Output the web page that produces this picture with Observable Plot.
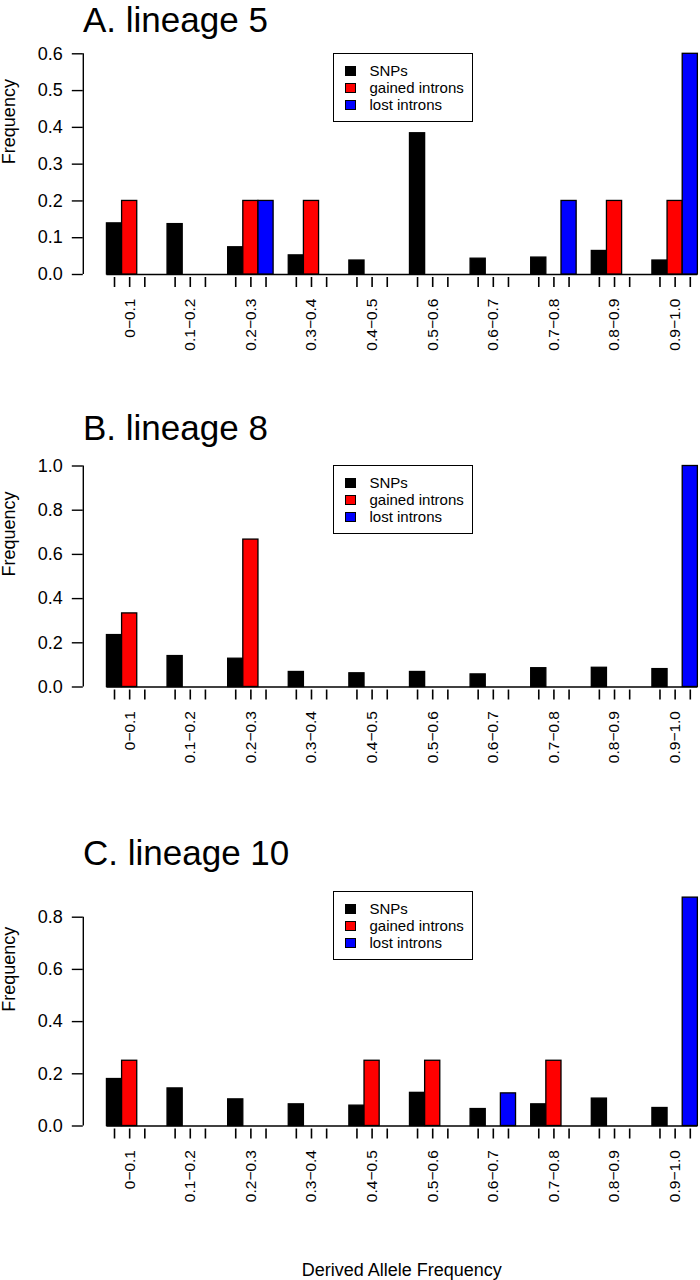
<!DOCTYPE html>
<html>
<head>
<meta charset="utf-8">
<script src="https://cdn.jsdelivr.net/npm/d3@7"></script>
<script src="https://cdn.jsdelivr.net/npm/@observablehq/plot@0.6"></script>
<style>
  html, body { margin: 0; padding: 0; background: #fff; overflow: hidden; }
  #page { position: relative; width: 700px; height: 1280px; overflow: hidden;
          font-family: "Liberation Sans", Arial, Helvetica, sans-serif; color: #000; background: #fff; }
  .panel { position: absolute; left: 0; }
  .title { position: absolute; left: 83px; line-height: 0; white-space: nowrap; }
  .legend { position: absolute; left: 332.5px; width: 138.5px; height: 67px; border: 1.5px solid #000; background: #fff; }
  .legend .row { position: absolute; left: 0; line-height: 0; font-size: 15px; white-space: nowrap; }
  .legend .sw { position: absolute; left: 11px; width: 9px; height: 8px; border: 1px solid #000; margin-top: -5px; }
  .legend .lab { position: absolute; left: 36px; }
  .xlab { position: absolute; left: 401.7px; transform: translateX(-50%); font-size: 18px; line-height: 0; white-space: nowrap; }
</style>
</head>
<body>
<div id="page"></div>
<script>
// ---- data ----
const bins = ["0\u22120.1", "0.1\u22120.2", "0.2\u22120.3", "0.3\u22120.4", "0.4\u22120.5",
              "0.5\u22120.6", "0.6\u22120.7", "0.7\u22120.8", "0.8\u22120.9", "0.9\u22121.0"];
const series = ["SNPs", "gained introns", "lost introns"];
const colors = ["#000000", "#ff0000", "#0000ff"];

const snpsA   = [0.139, 0.137, 0.074, 0.052, 0.038, 0.384, 0.043, 0.046, 0.064, 0.038];
const gainedA = [0.2, 0, 0.2, 0.2, 0, 0, 0, 0, 0.2, 0.2];
const lostA   = [0, 0, 0.2, 0, 0, 0, 0, 0.2, 0, 0.6];

const snpsB   = [0.235, 0.140, 0.128, 0.068, 0.062, 0.068, 0.057, 0.085, 0.087, 0.081];
const gainedB = [0.333, 0, 0.667, 0, 0, 0, 0, 0, 0, 0];
const lostB   = [0, 0, 0, 0, 0, 0, 0, 0, 0, 1.0];

const snpsC   = [0.180, 0.144, 0.102, 0.083, 0.078, 0.127, 0.065, 0.083, 0.105, 0.069];
const gainedC = [0.25, 0, 0, 0, 0.25, 0.25, 0, 0.25, 0, 0];
const lostC   = [0, 0, 0, 0, 0, 0, 0.125, 0, 0, 0.875];

const yTicksA = [0, 0.1, 0.2, 0.3, 0.4, 0.5, 0.6];
const yTicksB = [0, 0.2, 0.4, 0.6, 0.8, 1.0];
const yTicksC = [0, 0.2, 0.4, 0.6, 0.8];

const titles = ["A. lineage 5", "B. lineage 8", "C. lineage 10"];
const xTitle = "Derived Allele Frequency";
const yTitle = "Frequency";

// ---- layout (barplot-style: one bar-width gap before each group) ----
const groupSpace = 1;
const titleSize = 35;
const page = document.getElementById("page");

function buildRows(snps, gained, lost) {
  const rows = [];
  bins.forEach((bin, g) => {
    [snps, gained, lost].forEach((arr, s) => {
      rows.push({bin, g, s, series: series[s], value: arr[g]});
    });
  });
  return rows;
}

function panel(cfg) {
  const rows = buildRows(cfg.snps, cfg.gained, cfg.lost);
  const left = d => groupSpace + d.g * (series.length + groupSpace) + d.s;
  const first = groupSpace;
  const last = groupSpace + (bins.length - 1) * (series.length + groupSpace) + series.length;
  const ext = 0.04 * (last - first);
  const xMin = first - ext, xMax = last + ext;
  const centers = rows.map(d => left(d) + 0.5);
  const labelAt = new Map(rows.filter(d => d.s === 1).map(d => [left(d) + 0.5, d.bin]));
  const vmax = d3.max(rows, d => d.value);

  const svg = Plot.plot({
    width: 721,
    height: cfg.height,
    marginLeft: 82.8,
    marginRight: 0,
    marginTop: 0,
    marginBottom: cfg.marginBottom,
    style: {maxWidth: "none", background: "transparent", color: "#000",
            fontFamily: "'Liberation Sans', Arial, Helvetica, sans-serif"},
    x: {domain: [xMin, xMax]},
    y: {domain: cfg.yDomain, range: cfg.yRange},
    color: {domain: series, range: colors},
    marks: [
      Plot.ruleY([0], {x1: first, x2: last, stroke: "#000", strokeWidth: 1.4}),
      Plot.rectY(rows.filter(d => d.value > 0), {
        x1: left, x2: d => left(d) + 1, y1: 0, y2: "value",
        fill: "series", stroke: "#000", strokeWidth: 1.3
      }),
      Plot.ruleX([xMin], {y1: 0, y2: cfg.yTicks[cfg.yTicks.length - 1], stroke: "#000", strokeWidth: 1.4}),
      Plot.axisY({ticks: cfg.yTicks, tickSize: 11, tickPadding: 9.5, tickFormat: d3.format(".1f"),
                  fontSize: 18, label: null, strokeWidth: 1.4}),
      Plot.axisX({ticks: centers, tickSize: 10, tickPadding: 11, tickRotate: -90,
                  tickFormat: d => labelAt.get(d) ?? "", fontSize: 15.5, label: null, strokeWidth: 1.6}),
      Plot.text([yTitle], {text: d => d, y: [vmax / 2], frameAnchor: "left", dx: -73.8,
                           rotate: -90, fontSize: 18})
    ]
  });
  const wrap = document.createElement("div");
  wrap.className = "panel";
  wrap.style.top = cfg.top + "px";
  wrap.appendChild(svg);
  page.appendChild(wrap);

  const t = document.createElement("div");
  t.className = "title";
  t.style.fontSize = titleSize + "px";
  t.style.top = (cfg.titleBaseline - 0.3465 * titleSize) + "px";
  t.textContent = cfg.title;
  page.appendChild(t);

  const lg = document.createElement("div");
  lg.className = "legend";
  lg.style.top = cfg.legendTop + "px";
  const rowOffsets = [16.9, 34.2, 50.9];
  series.forEach((name, i) => {
    const r = document.createElement("div");
    r.className = "row";
    r.style.top = rowOffsets[i] + "px";
    const sw = document.createElement("div");
    sw.className = "sw";
    sw.style.background = colors[i];
    const lab = document.createElement("div");
    lab.className = "lab";
    lab.textContent = name;
    r.appendChild(sw);
    r.appendChild(lab);
    lg.appendChild(r);
  });
  page.appendChild(lg);
}

panel({title: titles[0], snps: snpsA, gained: gainedA, lost: lostA, yTicks: yTicksA,
       yDomain: [0, 0.6], top: 0, height: 370, marginBottom: 93, yRange: [274, 53.3],
       titleBaseline: 32.5, legendTop: 53.3});
panel({title: titles[1], snps: snpsB, gained: gainedB, lost: lostB, yTicks: yTicksB,
       yDomain: [0, 1.0], top: 380, height: 400, marginBottom: 90.5, yRange: [306.5, 85.5],
       titleBaseline: 440, legendTop: 465});
panel({title: titles[2], snps: snpsC, gained: gainedC, lost: lostC, yTicks: yTicksC,
       yDomain: [0, 0.8], top: 830, height: 400, marginBottom: 101.5, yRange: [295.5, 86.7],
       titleBaseline: 865, legendTop: 890.7});

const xl = document.createElement("div");
xl.className = "xlab";
xl.style.top = (1276 - 6.24) + "px";
xl.textContent = xTitle;
page.appendChild(xl);
</script>
</body>
</html>
